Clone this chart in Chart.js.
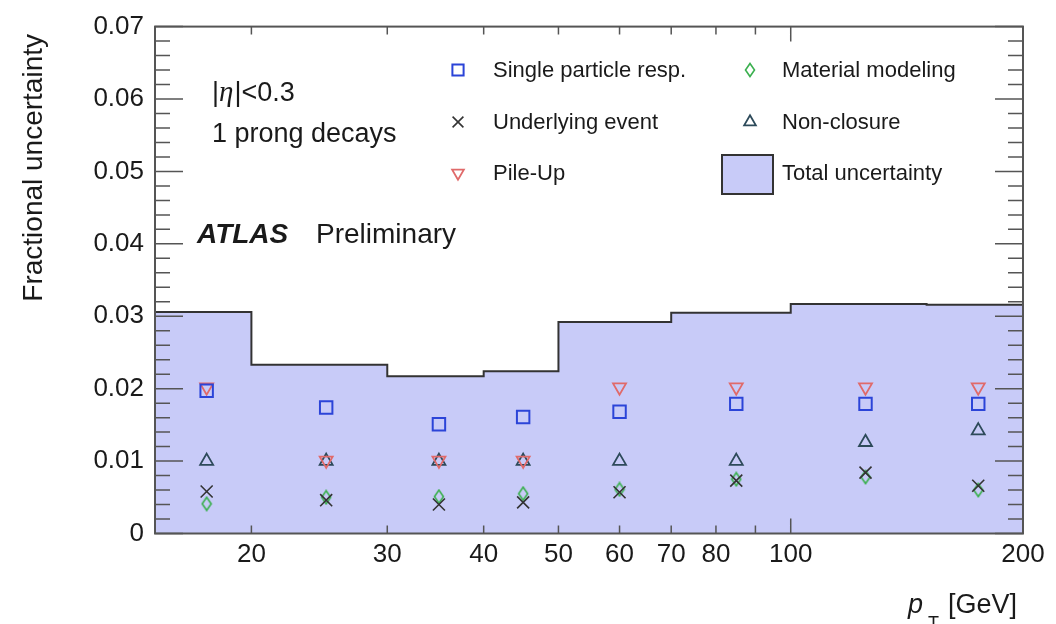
<!DOCTYPE html>
<html>
<head>
<meta charset="utf-8">
<title>Fractional uncertainty vs pT</title>
<script src="https://cdn.jsdelivr.net/npm/chart.js@4.4.1/dist/chart.umd.min.js"></script>
<style>
  html, body { margin: 0; padding: 0; background: #fff; }
  #wrap { width: 1056px; height: 624px; }
</style>
</head>
<body>
<div id="wrap"><canvas id="uncert" width="1056" height="624"></canvas></div>
<script>
// pT binning [GeV]
const binEdges = [15, 20, 30, 40, 50, 70, 100, 150, 200];
const binCentres = [17.5, 25, 35, 45, 60, 85, 125, 175];

// individual uncertainty components per bin
const singleParticle = [0.0197, 0.0174, 0.0151, 0.0161, 0.0168, 0.0179, 0.0179, 0.0179];
const underlyingEvent = [0.0058, 0.0046, 0.0040, 0.0043, 0.0057, 0.0073, 0.0084, 0.0066];
const pileUp = [0.0202, 0.0101, 0.0101, 0.0101, 0.0202, 0.0202, 0.0202, 0.0202];
const materialModel = [0.0041, 0.0050, 0.0051, 0.0055, 0.0061, 0.0075, 0.0078, 0.0060];
const nonClosure = [0.0100, 0.0100, 0.0100, 0.0100, 0.0100, 0.0100, 0.0126, 0.0142];
const totalUncert = [0.0306, 0.0233, 0.0217, 0.0224, 0.0292, 0.0305, 0.0317, 0.0316];

// axis labelling
const xTickValues = [20, 30, 40, 50, 60, 70, 80, 100, 200];
const xTickLabels = ['20', '30', '40', '50', '60', '70', '80', '100', '200'];
const xMinorTicks = [20, 30, 40, 50, 60, 70, 80, 90];
const xMajorTicks = [100, 200];
const yTickLabels = ['0', '0.01', '0.02', '0.03', '0.04', '0.05', '0.06', '0.07'];

const FONT = '"Liberation Sans", Arial, Helvetica, sans-serif';
const INK = '#1a1a1a';

const COLORS = {
    single: '#2b44d8',
    ue: '#333333',
    pileUp: '#e06a6a',
    material: '#3bb04f',
    nonClosure: '#2d4a5a',
    fill: 'rgb(200, 203, 248)',
    line: '#333333',
    frame: '#555555'
};

/**
 * Open diamond marker, taller than wide
 */
function makeDiamond(color) {
    const c = document.createElement('canvas');
    c.width = 12;
    c.height = 16;
    const g = c.getContext('2d');
    g.strokeStyle = color;
    g.lineWidth = 1.6;
    g.beginPath();
    g.moveTo(6, 1.5);
    g.lineTo(10.5, 8);
    g.lineTo(6, 14.5);
    g.lineTo(1.5, 8);
    g.closePath();
    g.stroke();
    return c;
}

const diamond = makeDiamond(COLORS.material);

function toPoints(values) {
    return binCentres.map((x, i) => ({ x: x, y: values[i] }));
}

// histogram outline: one point per lower edge, closed at the last edge
function toSteps(values) {
    const pts = binEdges.slice(0, -1).map((x, i) => ({ x: x, y: values[i] }));
    pts.push({ x: binEdges[binEdges.length - 1], y: values[values.length - 1] });
    return pts;
}

function markerSet(label, values, style, color, radius, extra) {
    return Object.assign({
        label: label,
        data: toPoints(values),
        showLine: false,
        pointStyle: style,
        pointRadius: radius,
        pointHoverRadius: radius,
        pointBorderColor: color,
        pointBackgroundColor: 'rgba(0,0,0,0)',
        pointBorderWidth: 1.8,
        borderColor: color,
        backgroundColor: 'rgba(0,0,0,0)',
        order: 1
    }, extra || {});
}

const datasets = [
    markerSet('Single particle resp.', singleParticle, 'rect', COLORS.single, 8.8, { pointBorderWidth: 2 }),
    markerSet('Underlying event', underlyingEvent, 'crossRot', COLORS.ue, 8.5, { pointBorderWidth: 1.6 }),
    markerSet('Pile-Up', pileUp, 'triangle', COLORS.pileUp, 7.5, { pointRotation: 180 }),
    markerSet('Material modeling', materialModel, diamond, COLORS.material, 7),
    markerSet('Non-closure', nonClosure, 'triangle', COLORS.nonClosure, 7.5),
    {
        type: 'line',
        label: 'Total uncertainty',
        data: toSteps(totalUncert),
        // hold each bin's level up to the next edge, then jump
        stepped: 'before',
        showLine: true,
        fill: 'origin',
        backgroundColor: COLORS.fill,
        borderColor: COLORS.line,
        borderWidth: 2,
        pointRadius: 0,
        order: 10
    }
];

const legendRows = [
    { col: 0, row: 0, ds: 0 },
    { col: 0, row: 1, ds: 1 },
    { col: 0, row: 2, ds: 2 },
    { col: 1, row: 0, ds: 3 },
    { col: 1, row: 1, ds: 4 },
    { col: 1, row: 2, ds: 5 }
];

/**
 * Frame and inward ticks on all four sides
 */
const framePlugin = {
    id: 'frameTicks',
    afterDatasetsDraw: function(chart) {
        const ctx = chart.ctx;
        const a = chart.chartArea;
        const xs = chart.scales.x;
        const ys = chart.scales.y;
        ctx.save();
        ctx.strokeStyle = COLORS.frame;
        ctx.lineWidth = 2;
        ctx.strokeRect(a.left, a.top, a.right - a.left, a.bottom - a.top);

        ctx.lineWidth = 1.5;
        ctx.beginPath();
        for (let i = 0; i <= 35; i++) {
            const py = ys.getPixelForValue(i * 0.002);
            const len = i % 5 === 0 ? 28 : 15;
            ctx.moveTo(a.left, py);
            ctx.lineTo(a.left + len, py);
            ctx.moveTo(a.right, py);
            ctx.lineTo(a.right - len, py);
        }
        xMinorTicks.forEach(function(v) {
            const px = xs.getPixelForValue(v);
            ctx.moveTo(px, a.bottom);
            ctx.lineTo(px, a.bottom - 8);
            ctx.moveTo(px, a.top);
            ctx.lineTo(px, a.top + 8);
        });
        xMajorTicks.forEach(function(v) {
            const px = xs.getPixelForValue(v);
            ctx.moveTo(px, a.bottom);
            ctx.lineTo(px, a.bottom - 15);
            ctx.moveTo(px, a.top);
            ctx.lineTo(px, a.top + 15);
        });
        ctx.stroke();
        ctx.restore();
    }
};

/**
 * Titles, labels and legend
 */
const textPlugin = {
    id: 'atlasText',
    afterDraw: function(chart) {
        const ctx = chart.ctx;
        ctx.save();
        ctx.fillStyle = INK;
        ctx.textBaseline = 'alphabetic';
        ctx.textAlign = 'left';

        // |eta| < 0.3
        let x = 212;
        ctx.font = '27px ' + FONT;
        ctx.fillText('|', x, 101);
        x += ctx.measureText('|').width;
        ctx.font = 'italic 29px "Liberation Serif", "DejaVu Serif", serif';
        ctx.fillText('\u03b7', x, 101);
        x += ctx.measureText('\u03b7').width + 1;
        ctx.font = '27px ' + FONT;
        ctx.fillText('|<0.3', x, 101);
        ctx.fillText('1 prong decays', 212, 142);

        ctx.font = 'italic bold 28px ' + FONT;
        ctx.fillText('ATLAS', 197, 243);
        ctx.font = '28px ' + FONT;
        ctx.fillText('Preliminary', 316, 243);

        // y title
        ctx.save();
        ctx.translate(42, 34);
        ctx.rotate(-Math.PI / 2);
        ctx.textAlign = 'right';
        ctx.font = '28px ' + FONT;
        ctx.fillText('Fractional uncertainty', 0, 0);
        ctx.restore();

        // x title
        ctx.font = 'italic 27px ' + FONT;
        ctx.fillText('p', 908, 613);
        ctx.font = '18px ' + FONT;
        ctx.fillText('T', 928, 629);
        ctx.font = '27px ' + FONT;
        ctx.fillText('[GeV]', 948, 613);

        // legend
        const colMarker = [458, 750];
        const colText = [493, 782];
        const rowY = [70, 122, 173];
        const drawPoint = Chart.helpers && Chart.helpers.drawPoint;
        ctx.font = '22px ' + FONT;
        legendRows.forEach(function(e) {
            const ds = chart.data.datasets[e.ds];
            const cy = rowY[e.row];
            const mx = colMarker[e.col];
            if (ds.fill) {
                ctx.fillStyle = ds.backgroundColor;
                ctx.fillRect(722, 155, 51, 39);
                ctx.strokeStyle = ds.borderColor;
                ctx.lineWidth = 2;
                ctx.strokeRect(722, 155, 51, 39);
            } else if (drawPoint) {
                ctx.save();
                ctx.strokeStyle = ds.pointBorderColor;
                ctx.fillStyle = 'rgba(0,0,0,0)';
                ctx.lineWidth = ds.pointBorderWidth;
                drawPoint(ctx, {
                    pointStyle: ds.pointStyle,
                    radius: ds.pointRadius * 0.9,
                    rotation: ds.pointRotation || 0,
                    borderWidth: ds.pointBorderWidth
                }, mx, cy);
                ctx.restore();
            }
            ctx.fillStyle = INK;
            ctx.fillText(ds.label, colText[e.col], cy + 7);
        });
        ctx.restore();
    }
};

new Chart(document.getElementById('uncert'), {
    type: 'scatter',
    data: { datasets: datasets },
    options: {
        responsive: false,
        devicePixelRatio: 1,
        animation: false,
        layout: { padding: { left: 0, right: 33, top: 18, bottom: 0 } },
        plugins: {
            legend: { display: false },
            tooltip: { enabled: false }
        },
        scales: {
            x: {
                type: 'logarithmic',
                min: 15,
                max: 200,
                grid: { display: false, drawTicks: false },
                border: { display: false },
                afterBuildTicks: function(scale) {
                    scale.ticks = xTickValues.map(v => ({ value: v }));
                },
                afterFit: function(scale) {
                    scale.height = 90.5;
                },
                ticks: {
                    autoSkip: false,
                    maxRotation: 0,
                    padding: 6,
                    color: INK,
                    font: { family: FONT, size: 26 },
                    callback: function(value, index) {
                        return xTickLabels[index];
                    }
                }
            },
            y: {
                type: 'linear',
                min: 0,
                max: 0.07,
                grid: { display: false, drawTicks: false },
                border: { display: false },
                afterFit: function(scale) {
                    scale.width = 155;
                },
                ticks: {
                    stepSize: 0.01,
                    padding: 11,
                    color: INK,
                    font: { family: FONT, size: 26 },
                    callback: function(value, index) {
                        return yTickLabels[index];
                    }
                }
            }
        }
    },
    plugins: [framePlugin, textPlugin]
});
</script>
</body>
</html>
